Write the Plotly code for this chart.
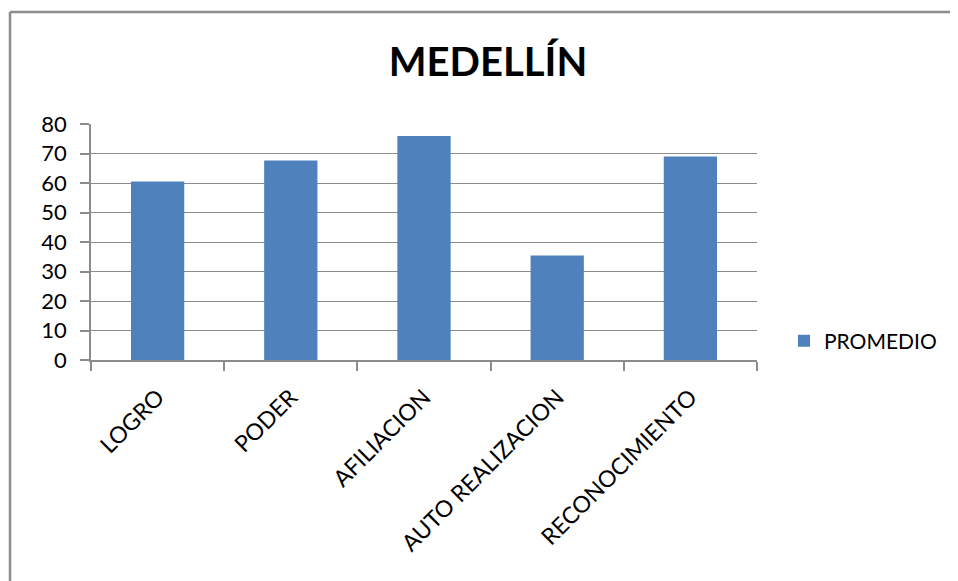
import plotly.graph_objects as go

categories = ["LOGRO", "PODER", "AFILIACION", "AUTO REALIZACION", "RECONOCIMIENTO"]
promedio = [60.5, 67.6, 75.9, 35.4, 69.0]
series_name = "PROMEDIO"
title_text = "MEDELLÍN"

# page body margin of 8px offsets the figure; shrink and shift accordingly
OFF = 8
W, H = 958 - OFF, 581 - OFF
L, R, T, B = 91 - OFF, 757 - OFF, 124 - OFF, 360 - OFF  # plot area pixel bounds


def px_to_paper_x(px):
    return (px - OFF - L) / (R - L)


def px_to_paper_y(py):
    return (B - (py - OFF)) / (B - T)


FONT = "Lato"
GRAY = "#8c8c8c"

fig = go.Figure()
fig.add_trace(go.Bar(x=categories, y=promedio, name=series_name,
                     marker=dict(color="#4F81BD", line=dict(width=0)),
                     showlegend=True))

fig.update_layout(
    width=W, height=H,
    margin=dict(l=L, r=W - R, t=T, b=H - B, autoexpand=False),
    paper_bgcolor="white", plot_bgcolor="white",
    bargap=0.6,
    showlegend=True,
    title=dict(text="<b>" + title_text + "</b>", x=(488 - OFF) / W, xanchor="center",
               y=1 - (62 - OFF) / H, yanchor="middle", yref="container",
               font=dict(family=FONT, size=40, color="black")),
    legend=dict(x=px_to_paper_x(784), y=px_to_paper_y(341), xanchor="left", yanchor="middle",
                font=dict(family=FONT, size=21, color="black"), bgcolor="rgba(0,0,0,0)",
                itemwidth=30),
    xaxis=dict(showgrid=False, showline=True, linecolor=GRAY, linewidth=1.5,
               ticks="outside", tickson="boundaries", ticklen=9, tickcolor=GRAY, tickwidth=1.5,
               tickangle=-45, tickfont=dict(family=FONT, size=23, color="black"),
               ticklabelstandoff=13, fixedrange=True),
    yaxis=dict(range=[0, 80], dtick=10, showgrid=True, gridcolor=GRAY, gridwidth=1,
               showline=True, linecolor=GRAY, linewidth=1.5, ticks="outside", ticklen=9,
               tickcolor=GRAY, tickwidth=1.5, zeroline=False,
               tickfont=dict(family=FONT, size=22, color="black"), ticklabelstandoff=9),
    shapes=[
        dict(type="line", xref="paper", yref="paper",
             x0=px_to_paper_x(10), y0=px_to_paper_y(12), x1=px_to_paper_x(965), y1=px_to_paper_y(12),
             line=dict(color=GRAY, width=2.5)),
        dict(type="line", xref="paper", yref="paper",
             x0=px_to_paper_x(10), y0=px_to_paper_y(12), x1=px_to_paper_x(10), y1=px_to_paper_y(590),
             line=dict(color=GRAY, width=2.5)),
    ],
)

fig.write_html("out.html")
